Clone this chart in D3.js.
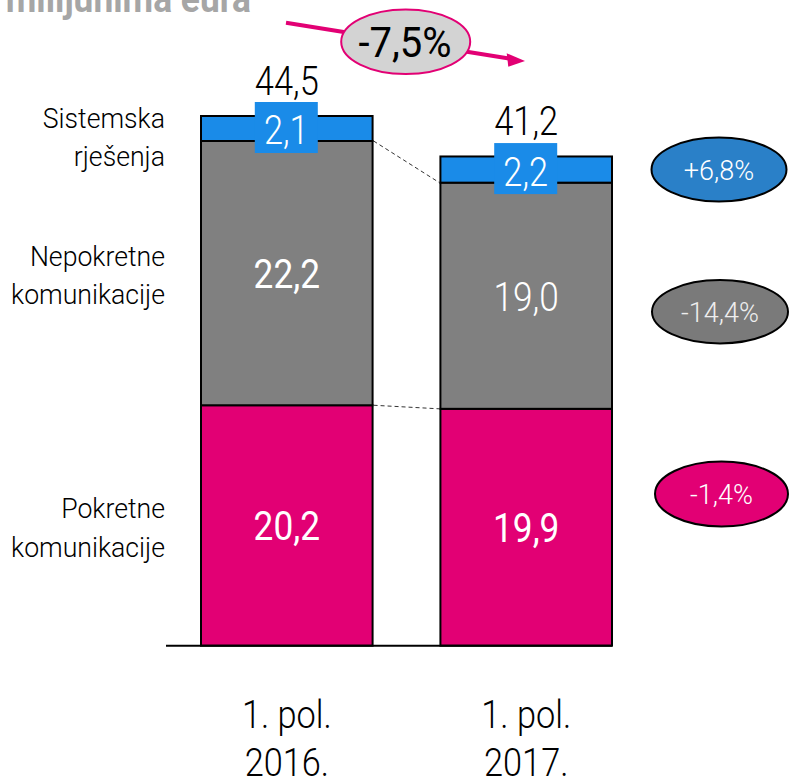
<!DOCTYPE html>
<html>
<head>
<meta charset="utf-8">
<script src="https://cdn.jsdelivr.net/npm/d3@7"></script>
<style>
  html, body { margin: 0; padding: 0; background: #fff; }
  svg { display: block; }
  text { font-family: Roboto, "Liberation Sans", sans-serif; }
</style>
</head>
<body>
<svg id="chart" width="789" height="780"></svg>
<script>
// ---------------- data ----------------
const periodLine1 = ["1. pol.", "1. pol."];
const periodLine2 = ["2016.", "2017."];
const periods = ["1. pol. 2016.", "1. pol. 2017."];
const seriesNames = [["Pokretne", "komunikacije"], ["Nepokretne", "komunikacije"], ["Sistemska", "rješenja"]];
const seriesKeys = ["mobile", "fixed", "system"];
const mobile = [20.2, 19.9];
const fixed = [22.2, 19.0];
const system = [2.1, 2.2];
const valueLabels = { mobile: ["20,2", "19,9"], fixed: ["22,2", "19,0"], system: ["2,1", "2,2"] };
const totals = ["44,5", "41,2"];
const seriesChange = ["-1,4%", "-14,4%", "+6,8%"];
const totalChange = "-7,5%";
const title = "u milijunima eura";

// ---------------- setup ----------------
const svg = d3.select("#chart");
const colors = { mobile: "#e20074", fixed: "#808080", system: "#1a8be8" };
const ellipseFill = { mobile: "#e20074", fixed: "#7a7a7a", system: "#2a80c8" };

const rows = periods.map((p, i) => ({ period: p, mobile: mobile[i], fixed: fixed[i], system: system[i] }));
const stacked = d3.stack().keys(seriesKeys)(rows);

const x = d3.scaleBand().domain(periods).range([201, 612]).paddingInner(0.2833).paddingOuter(0);
const y = d3.scaleLinear().domain([0, 44.5]).range([645.7, 116]);

function label(g, tx, ty, str, o) {
  return g.append("text")
    .attr("transform", `translate(${tx},${ty}) scale(${o.sx || 1},1)`)
    .attr("text-anchor", o.anchor || "middle")
    .style("font-size", o.fs + "px")
    .style("font-weight", o.fw || 300)
    .attr("fill", o.fill || "#000")
    .text(str);
}

// title (clipped at top)
label(svg, 251, 12, title, { fs: 38, fw: 700, sx: 0.93, anchor: "end", fill: "#a6a6a6" });

// ---------------- bars ----------------
const layers = svg.append("g").selectAll("g").data(stacked).join("g")
  .attr("fill", d => colors[d.key]);
layers.selectAll("rect").data(d => d).join("rect")
  .attr("x", d => x(d.data.period))
  .attr("width", x.bandwidth())
  .attr("y", d => y(d[1]))
  .attr("height", d => y(d[0]) - y(d[1]))
  .attr("stroke", "#000")
  .attr("stroke-width", 2);

// dashed connectors between bars (tops of mobile & fixed)
const conn = svg.append("g");
[0, 1].forEach(si => {
  const s = stacked[si];
  conn.append("line")
    .attr("x1", x(periods[0]) + x.bandwidth() + 1)
    .attr("y1", y(s[0][1]))
    .attr("x2", x(periods[1]) - 1)
    .attr("y2", y(s[1][1]))
    .attr("stroke", "#333")
    .attr("stroke-width", 1)
    .attr("stroke-dasharray", "4,3");
});

// baseline axis line
svg.append("line")
  .attr("x1", 166).attr("x2", x.range()[1])
  .attr("y1", y(0)).attr("y2", y(0))
  .attr("stroke", "#000").attr("stroke-width", 2);

// ---------------- value labels ----------------
const vl = svg.append("g");
stacked.forEach(s => {
  s.forEach((d, i) => {
    const cx = x(d.data.period) + x.bandwidth() / 2;
    const cy = (y(d[0]) + y(d[1])) / 2;
    if (s.key === "system") {
      vl.append("rect")
        .attr("x", cx - 32).attr("y", cy - 26.5)
        .attr("width", 63).attr("height", 51)
        .attr("fill", colors.system);
      label(vl, cx - 0.5, cy + 16, valueLabels[s.key][i], { fs: 40, sx: 0.86, fill: "#fff", fw: 300 });
    } else {
      const light = valueLabels[s.key][i] === "19,0";
      label(vl, cx, cy + 15, valueLabels[s.key][i], { fs: 41, sx: 0.86, fill: "#fff", fw: light ? 300 : 400 });
    }
  });
});

// totals above bars
const topLayer = stacked[stacked.length - 1];
topLayer.forEach((d, i) => {
  const cx = x(d.data.period) + x.bandwidth() / 2;
  label(svg, cx, y(d[1]) - 21, totals[i], { fs: 41, sx: 0.84, fill: "#000", fw: 300 });
});

// ---------------- category (series) labels on left ----------------
const seriesLabelBase = [518.3, 265.7, 128];
seriesNames.forEach((lines, si) => {
  lines.forEach((ln, li) => {
    label(svg, 165, seriesLabelBase[si] + li * 38.2, ln, { fs: 27.5, sx: 0.97, anchor: "end", fill: "#000", fw: 300 });
  });
});

// ---------------- x labels ----------------
periods.forEach((p, i) => {
  const cx = x(p) + x.bandwidth() / 2;
  label(svg, cx, 728, periodLine1[i], { fs: 39, sx: 0.88, fw: 300 });
  label(svg, cx, 776, periodLine2[i], { fs: 39, sx: 0.88, fw: 300 });
});

// ---------------- change ellipses on right ----------------
const ellipsePos = [[721.5, 494, 66.5, 32.5], [720, 311.7, 68, 31.7], [719, 169.5, 67.5, 32]];
const eg = svg.append("g");
seriesKeys.forEach((k, i) => {
  const [ex, ey, rx, ry] = ellipsePos[i];
  eg.append("ellipse")
    .attr("cx", ex).attr("cy", ey).attr("rx", rx).attr("ry", ry)
    .attr("fill", ellipseFill[k]).attr("stroke", "#000").attr("stroke-width", 2);
  label(eg, ex, ey + 10, seriesChange[i], { fs: 27, sx: 1.0, fill: k === "fixed" ? "#eeeeee" : "#fff", fw: 300 });
});

// ---------------- total change arrow ----------------
const ag = svg.append("g");
const ax1 = 286, ay1 = 22.7, ax2 = 509, ay2 = 58.5;
ag.append("line")
  .attr("x1", ax1).attr("y1", ay1).attr("x2", ax2).attr("y2", ay2)
  .attr("stroke", "#e20074").attr("stroke-width", 4);
ag.append("path")
  .attr("d", "M506.7,53.3 L525,61 L508.3,66.7 Z")
  .attr("fill", "#e20074");
ag.append("ellipse")
  .attr("cx", 405.7).attr("cy", 41.7).attr("rx", 64.5).attr("ry", 32.3)
  .attr("fill", "#d3d3d3").attr("stroke", "#e20074").attr("stroke-width", 2);
label(ag, 405, 57, totalChange, { fs: 43, sx: 0.93, fill: "#000", fw: 400 });
</script>
</body>
</html>
